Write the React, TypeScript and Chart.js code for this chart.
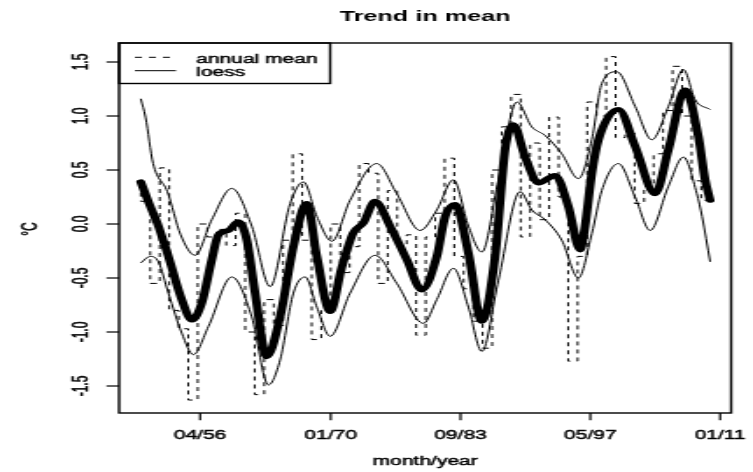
import { useEffect, useRef } from "react";
import { Chart, registerables } from "chart.js";

Chart.register(...registerables);

// Annual means (°C anomaly), one value per calendar year, drawn as a step line
const years = [
  1950, 1951, 1952, 1953, 1954, 1955, 1956, 1957, 1958, 1959,
  1960, 1961, 1962, 1963, 1964, 1965, 1966, 1967, 1968, 1969,
  1970, 1971, 1972, 1973, 1974, 1975, 1976, 1977, 1978, 1979,
  1980, 1981, 1982, 1983, 1984, 1985, 1986, 1987, 1988, 1989,
  1990, 1991, 1992, 1993, 1994, 1995, 1996, 1997, 1998, 1999,
  2000, 2001, 2002, 2003, 2004, 2005, 2006, 2007, 2008, 2009, 2010,
];
const annualMean = [
  0.29, 0.21, -0.55, 0.52, -0.8, -0.97, -1.63, 0.0, -0.12, -0.05,
  -0.2, 0.1, -1.0, -1.58, -0.7, -0.94, -0.15, 0.65, -0.15, -1.07,
  -0.8, 0.0, -0.45, -0.21, 0.56, 0.47, -0.55, 0.31, -0.21, -0.1,
  -1.03, -0.12, 0.1, 0.61, -0.3, -0.6, -0.9, -1.15, 0.5, 0.9,
  1.2, -0.12, 0.75, 0.04, 0.99, 0.25, -1.27, -0.3, 1.13, 1.0,
  1.55, 0.8, 0.84, 0.19, 0.35, 0.65, 1.05, 1.46, 1.0, 0.4, 0.22,
];

// Loess fit (thick line)
const fitYears = [
  1950.0, 1950.88, 1951.86, 1952.91, 1954.32, 1955.38, 1956.43, 1957.48, 1958.18, 1959.23,
  1960.28, 1961.17, 1962.04, 1963.27, 1964.67, 1966.07, 1967.48, 1968.54, 1969.94, 1971.17,
  1972.39, 1973.44, 1974.67, 1976.25, 1978.01, 1979.59, 1981.17, 1982.05, 1983.1, 1984.5,
  1985.91, 1987.31, 1988.36, 1989.24, 1990.47, 1991.87, 1993.63, 1995.03, 1996.26, 1996.78,
  1997.49, 1998.19, 2000.29, 2002.05, 2004.16, 2005.56, 2007.31, 2008.71, 2009.42, 2009.95,
];
const fitValues = [
  0.39, 0.19, -0.02, -0.3, -0.7, -0.89, -0.73, -0.33, -0.1, -0.06,
  0.02, -0.15, -0.64, -1.23, -0.86, -0.21, 0.19, -0.3, -0.81, -0.4,
  -0.08, 0.01, 0.21, -0.02, -0.33, -0.61, -0.3, 0.07, 0.18, -0.27,
  -0.9, -0.3, 0.69, 0.92, 0.62, 0.38, 0.45, 0.16, -0.24, -0.02,
  0.47, 0.78, 1.06, 0.72, 0.28, 0.69, 1.24, 0.81, 0.41, 0.22,
];

// Upper band of the loess fit
const upperYears = [
  1950.0, 1950.5, 1951.3, 1952.8, 1954.2, 1955.72, 1957.48, 1959.59, 1961.69, 1963.62,
  1965.73, 1967.13, 1968.54, 1970.12, 1972.04, 1974.85, 1976.96, 1979.41, 1981.17, 1982.92,
  1984.5, 1985.91, 1987.66, 1989.6, 1991.17, 1992.57, 1994.33, 1996.08, 1997.49, 1998.54,
  2000.12, 2002.05, 2003.81, 2005.56, 2007.14, 2008.37, 2009.95,
];
const upperValues = [
  1.16, 0.99, 0.56, 0.3, -0.1, -0.29, 0.04, 0.33, -0.02, -0.58,
  0.19, 0.39, 0.07, -0.16, 0.22, 0.56, 0.28, -0.06, 0.13, 0.41,
  -0.02, -0.26, 0.41, 1.13, 0.9, 0.82, 0.65, 0.42, 0.78, 1.3,
  1.41, 1.09, 0.78, 1.09, 1.43, 1.15, 1.06,
];

// Lower band of the loess fit
const lowerYears = [
  1950.0, 1951.0, 1951.86, 1952.91, 1954.32, 1955.54, 1957.12, 1959.59, 1961.69, 1963.44,
  1964.67, 1966.07, 1967.31, 1968.54, 1969.94, 1972.04, 1974.67, 1976.96, 1979.76, 1981.17,
  1982.92, 1984.5, 1985.91, 1987.66, 1989.94, 1991.17, 1992.57, 1994.33, 1996.08, 1997.49,
  1998.54, 2000.29, 2002.05, 2003.63, 2005.56, 2007.14, 2008.55, 2009.1, 2009.95,
];
const lowerValues = [
  -0.36, -0.3, -0.35, -0.64, -1.01, -1.21, -0.95, -0.49, -0.86, -1.49,
  -1.26, -0.64, -0.49, -0.77, -1.04, -0.64, -0.29, -0.55, -0.92, -0.7,
  -0.41, -0.77, -1.18, -0.52, 0.3, 0.13, 0.04, -0.15, -0.5, -0.09,
  0.31, 0.56, 0.25, -0.06, 0.35, 0.62, 0.28, 0.07, -0.35,
];

// Axis ticks
const xTickYears = [1956.25, 1970.0, 1983.667, 1997.333, 2011.0];
const xTickLabels = ["04/56", "01/70", "09/83", "05/97", "01/11"];
const yTicks = [-1.5, -1.0, -0.5, 0.0, 0.5, 1.0, 1.5];

const TITLE = "Trend in mean";
const X_TITLE = "month/year";
const Y_TITLE = "°C";
const LEGEND_LABELS = ["annual mean", "loess"];

// The drawing surface is narrower than its on-screen box and is stretched horizontally
const CANVAS_W = 430;
const CANVAS_H = 472;
const SHOWN_W = 753;

const X_MIN = 1947.72;
const X_MAX = 2012.16;
const Y_MIN = -1.75;
const Y_MAX = 1.676;

const FONT = '"Liberation Sans", Arial, Helvetica, sans-serif';

const pairs = (xs: number[], ys: number[]) => xs.map((x, i) => ({ x, y: ys[i] }));

// text with a hairline outline so the glyphs read a little heavier
function heavyText(ctx: CanvasRenderingContext2D, text: string, x: number, y: number) {
  ctx.fillText(text, x, y);
  ctx.save();
  ctx.lineWidth = 0.45;
  ctx.setLineDash([]);
  ctx.strokeText(text, x, y);
  ctx.restore();
}

// Base-graphics style frame, ticks, labels, title and legend
const frameAxesPlugin = {
  id: "frameAxes",
  afterDraw(chart: any) {
    const { ctx, chartArea: a, scales } = chart;
    const xs = scales.x;
    const ys = scales.y;
    const tick = 7.2;
    ctx.save();
    ctx.strokeStyle = "#000";
    ctx.fillStyle = "#000";
    ctx.lineWidth = 1.4;
    ctx.setLineDash([]);

    // plot frame
    ctx.strokeRect(a.left, a.top, a.right - a.left, a.bottom - a.top);

    // x axis
    ctx.lineWidth = 1.2;
    ctx.font = `12px ${FONT}`;
    ctx.textAlign = "center";
    ctx.textBaseline = "alphabetic";
    xTickYears.forEach((v, i) => {
      const px = xs.getPixelForValue(v);
      ctx.beginPath();
      ctx.moveTo(px, a.bottom);
      ctx.lineTo(px, a.bottom + tick);
      ctx.stroke();
      heavyText(ctx, xTickLabels[i], px, 439);
    });

    // y axis, labels rotated to read upwards
    yTicks.forEach((v) => {
      const py = ys.getPixelForValue(v);
      ctx.beginPath();
      ctx.moveTo(a.left, py);
      ctx.lineTo(a.left - tick, py);
      ctx.stroke();
      ctx.save();
      ctx.translate(49.5, py);
      ctx.rotate(-Math.PI / 2);
      ctx.textAlign = "center";
      ctx.textBaseline = "alphabetic";
      heavyText(ctx, v.toFixed(1), 0, 0);
      ctx.restore();
    });

    const midX = (a.left + a.right) / 2;
    const midY = (a.top + a.bottom) / 2;

    // axis titles
    ctx.textAlign = "center";
    heavyText(ctx, X_TITLE, midX, 465);
    ctx.save();
    ctx.translate(20.6, midY + 1);
    ctx.rotate(-Math.PI / 2);
    heavyText(ctx, Y_TITLE, 0, 0);
    ctx.restore();

    // main title
    ctx.font = `bold 14.4px ${FONT}`;
    ctx.fillText(TITLE, midX, 21);

    // legend
    ctx.lineWidth = 1.4;
    const boxRight = 188.5;
    const boxBottom = 83.5;
    ctx.strokeRect(a.left, a.top, boxRight - a.left, boxBottom - a.top);
    ctx.lineWidth = 1;
    const rowY = [57.3, 70.7];
    const baseY = [62.5, 75.8];
    const dashes = [[4, 4], []];
    ctx.font = `12px ${FONT}`;
    ctx.textAlign = "left";
    LEGEND_LABELS.forEach((label, i) => {
      ctx.lineWidth = 1;
      ctx.setLineDash(dashes[i]);
      ctx.beginPath();
      ctx.moveTo(77, rowY[i]);
      ctx.lineTo(100.5, rowY[i]);
      ctx.stroke();
      ctx.setLineDash([]);
      heavyText(ctx, label, 112, baseY[i]);
    });
    ctx.restore();
  },
};

export default function App() {
  const canvasRef = useRef<HTMLCanvasElement | null>(null);

  useEffect(() => {
    document.body.style.margin = "0";
    const canvas = canvasRef.current;
    if (!canvas) return;

    const chart = new Chart(canvas, {
      type: "line",
      data: {
        datasets: [
          {
            label: "loess",
            data: pairs(fitYears, fitValues),
            borderColor: "#000",
            borderWidth: 5,
            borderCapStyle: "round",
            borderJoinStyle: "round",
            cubicInterpolationMode: "monotone",
            pointRadius: 0,
          },
          {
            label: "loess upper",
            data: pairs(upperYears, upperValues),
            borderColor: "#000",
            borderWidth: 1,
            cubicInterpolationMode: "monotone",
            pointRadius: 0,
          },
          {
            label: "loess lower",
            data: pairs(lowerYears, lowerValues),
            borderColor: "#000",
            borderWidth: 1,
            cubicInterpolationMode: "monotone",
            pointRadius: 0,
          },
          {
            label: "annual mean",
            data: pairs(years, annualMean),
            borderColor: "#000",
            borderWidth: 1,
            borderDash: [4, 4],
            stepped: "after",
            pointRadius: 0,
          },
        ],
      } as any,
      options: {
        responsive: false,
        animation: false,
        devicePixelRatio: 1,
        events: [],
        layout: { padding: { left: 68, right: 12.5, top: 43, bottom: 59 } },
        scales: {
          x: { type: "linear", min: X_MIN, max: X_MAX, display: false },
          y: { type: "linear", min: Y_MIN, max: Y_MAX, display: false },
        },
        plugins: {
          legend: { display: false },
          tooltip: { enabled: false },
          title: { display: false },
        },
      },
      plugins: [frameAxesPlugin],
    });

    return () => chart.destroy();
  }, []);

  return (
    <div
      style={{
        position: "absolute",
        left: 0,
        top: 0,
        width: SHOWN_W,
        height: CANVAS_H,
        background: "#fff",
      }}
    >
      <canvas
        ref={canvasRef}
        width={CANVAS_W}
        height={CANVAS_H}
        style={{ width: `${SHOWN_W}px`, height: `${CANVAS_H}px`, display: "block" }}
      />
    </div>
  );
}
